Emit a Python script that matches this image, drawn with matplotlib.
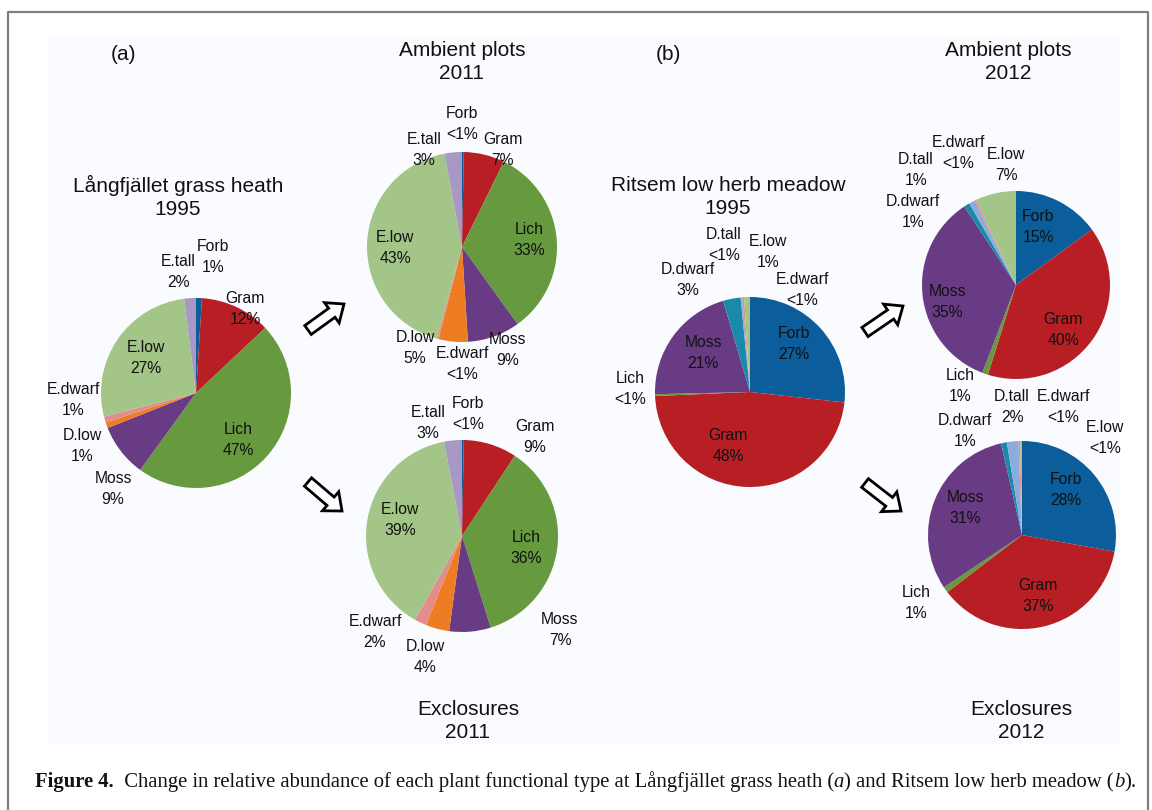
import matplotlib
matplotlib.use('Agg')
import matplotlib.pyplot as plt
from matplotlib.patches import Rectangle, FancyArrow

# plant functional types and relative abundance (%), "<1%" read as 0.3
lang_types = ['Forb', 'Gram', 'Lich', 'Moss', 'D.low', 'E.dwarf', 'E.low', 'E.tall']
lang_1995 = [1, 12, 47, 9, 1, 1, 27, 2]
lang_1995_pct = ['1%', '12%', '47%', '9%', '1%', '1%', '27%', '2%']
lang_amb_2011 = [0.3, 7, 33, 9, 5, 0.3, 43, 3]
lang_amb_2011_pct = ['<1%', '7%', '33%', '9%', '5%', '<1%', '43%', '3%']
lang_exc_2011 = [0.3, 9, 36, 7, 4, 2, 39, 3]
lang_exc_2011_pct = ['<1%', '9%', '36%', '7%', '4%', '2%', '39%', '3%']

rit_types = ['Forb', 'Gram', 'Lich', 'Moss', 'D.dwarf', 'D.tall', 'E.dwarf', 'E.low']
rit_1995 = [27, 48, 0.3, 21, 3, 0.3, 0.3, 1]
rit_1995_pct = ['27%', '48%', '<1%', '21%', '3%', '<1%', '<1%', '1%']
rit_amb_2012 = [15, 40, 1, 35, 1, 1, 0.3, 7]
rit_amb_2012_pct = ['15%', '40%', '1%', '35%', '1%', '1%', '<1%', '7%']
rit_exc_2012 = [28, 37, 1, 31, 1, 2, 0.3, 0.3]
rit_exc_2012_pct = ['28%', '37%', '1%', '31%', '1%', '2%', '<1%', '<1%']

colors = {
    'Forb': '#0b5e9b', 'Gram': '#b81f25', 'Lich': '#67993f', 'Moss': '#6a3b85',
    'D.low': '#ee7c23', 'E.dwarf': '#e48c8c', 'E.low': '#a3c587', 'E.tall': '#a898c5',
    'D.dwarf': '#1b89aa', 'D.tall': '#8caddb',
}

# layout (pixel coords, y down)
W, H = 1152, 810
pies = [
    # values, labels, types, centre, radius, label positions
    (lang_1995, lang_1995_pct, lang_types, (196, 393), 95,
     [(213, 257), (245, 309), (238, 440), (113, 489), (82, 446), (73, 400), (146, 358), (178, 272)]),
    (lang_amb_2011, lang_amb_2011_pct, lang_types, (462, 247), 95,
     [(462, 124), (503, 150), (529, 240), (508, 350), (415, 348), (462, 364), (395, 248), (424, 150)]),
    (lang_exc_2011, lang_exc_2011_pct, lang_types, (462, 536), 96,
     [(468, 414), (535, 437), (526, 548), (560, 630), (425, 657), (375, 632), (400, 520), (428, 423)]),
    (rit_1995, rit_1995_pct, rit_types, (750, 392), 95,
     [(794, 344), (728, 446), (630, 389), (703, 353), (688, 280), (724, 245), (802, 290), (768, 252)]),
    (rit_amb_2012, rit_amb_2012_pct, rit_types, (1016, 285), 94,
     [(1038, 227), (1063, 330), (960, 386), (947, 302), (913, 212), (916, 170), (958, 153), (1006, 165)]),
    (rit_exc_2012, rit_exc_2012_pct, rit_types, (1022, 535), 94,
     [(1066, 490), (1038, 596), (916, 603), (965, 508), (965, 431), (1012, 407), (1063, 407), (1105, 438)]),
]

fig = plt.figure(figsize=(W / 100, H / 100), dpi=100)
ax = fig.add_axes([0, 0, 1, 1])

# page frame and light panel
ax.add_patch(Rectangle((47, 37), 1073, 708, facecolor='#fafbfe', edgecolor='none', zorder=0))
ax.plot([8, 8, 1148, 1148], [812, 12, 12, 812], color='#808080', lw=1.6, zorder=1)

sans = 'Liberation Sans'
for vals, pcts, types, c, r, pos in pies:
    ax.pie(vals, colors=[colors[t] for t in types], center=c, radius=r,
           startangle=-90, counterclock=True, frame=True,
           wedgeprops=dict(edgecolor='none', linewidth=0))
    for t, p, (x, y) in zip(types, pcts, pos):
        ax.text(x, y, t + '\n' + p, ha='center', va='center', fontsize=11.3,
                family=sans, color='#111111', linespacing=1.5, zorder=5)

headings = [
    ('(a)', 123, 55), ('(b)', 668, 55),
    ('Ambient plots\n2011', 462, 62), ('Ambient plots\n2012', 1008, 62),
    ('Långfjället grass heath\n1995', 178, 197), ('Ritsem low herb meadow\n1995', 728, 197),
    ('Exclosures\n2011', 468, 721), ('Exclosures\n2012', 1021, 721),
]
for s, x, y in headings:
    ax.text(x, y, s, ha='center', va='center', fontsize=15, family=sans,
            color='#111111', linespacing=1.32)

# hollow block arrows
for (x0, y0), (x1, y1) in [((308, 330), (344, 304)), ((308, 482), (342, 511)),
                           ((865, 332), (903, 306)), ((865, 483), (901, 511))]:
    ax.add_patch(FancyArrow(x0, y0, x1 - x0, y1 - y0, width=11, head_width=25,
                            head_length=15, length_includes_head=True,
                            facecolor='white', edgecolor='black', lw=2, zorder=6))

ax.set_xlim(0, W)
ax.set_ylim(H, 0)
ax.set_axis_off()

# caption, drawn piece by piece
fig.canvas.draw()
rend = fig.canvas.get_renderer()
pieces = [('Figure 4.', 'bold', 'normal'),
          ('  Change in relative abundance of each plant functional type at Långfjället grass heath (', 'normal', 'normal'),
          ('a', 'normal', 'italic'),
          (') and Ritsem low herb meadow (', 'normal', 'normal'),
          ('b', 'normal', 'italic'),
          (').', 'normal', 'normal')]
x = 35
for s, w, st in pieces:
    t = ax.text(x, 787, s, ha='left', va='baseline', fontsize=14.85,
                family='Liberation Serif', weight=w, style=st, color='#111111')
    bb = t.get_window_extent(rend)
    x += bb.width * W / fig.bbox.width

fig.savefig('out.png', dpi=100)
